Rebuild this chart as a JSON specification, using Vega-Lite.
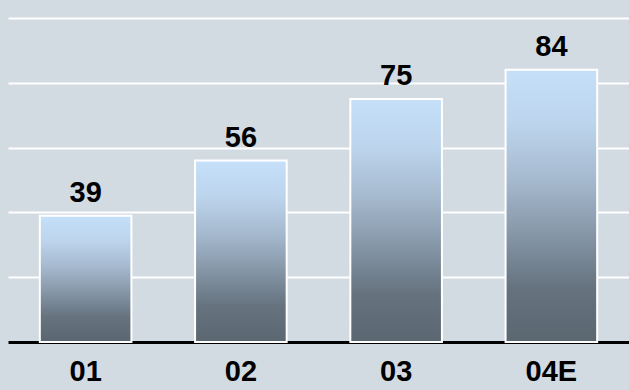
{
  "$schema": "https://vega.github.io/schema/vega-lite/v6.json",
  "width": 621,
  "height": 324,
  "autosize": {"type": "none"},
  "padding": {"left": 8, "top": 18, "right": 0, "bottom": 48},
  "background": "#d3dbe2",
  "config": {"view": {"stroke": null}},
  "data": {"values": [
    {"year": "01", "value": 39},
    {"year": "02", "value": 56},
    {"year": "03", "value": 75},
    {"year": "04E", "value": 84}
  ]},
  "encoding": {
    "x": {
      "field": "year", "type": "nominal", "sort": null,
      "scale": {"paddingInner": 0.41, "paddingOuter": 0.205},
      "axis": {
        "title": null, "labelAngle": 0, "ticks": false,
        "domainColor": "#000000", "domainWidth": 3,
        "labelFont": "Liberation Sans", "labelFontWeight": "bold", "labelFontSize": 29,
        "labelColor": "#000000", "labelBaseline": "alphabetic", "labelPadding": 38
      }
    },
    "y": {
      "field": "value", "type": "quantitative",
      "scale": {"domain": [0, 100], "nice": false},
      "axis": {
        "title": null, "labels": false, "ticks": false, "domain": false,
        "values": [20, 40, 60, 80, 100],
        "grid": true, "gridColor": "#ffffff", "gridWidth": 2, "gridOpacity": 1
      }
    }
  },
  "layer": [
    {
      "mark": {
        "type": "bar",
        "stroke": "#ffffff",
        "strokeWidth": 2,
        "color": {
          "gradient": "linear",
          "x1": 0, "y1": 0, "x2": 0, "y2": 1,
          "stops": [
            {"offset": 0, "color": "#c6e0fa"},
            {"offset": 0.2, "color": "#bcd4ec"},
            {"offset": 0.4, "color": "#a6bacf"},
            {"offset": 0.6, "color": "#8697a8"},
            {"offset": 0.8, "color": "#66737f"},
            {"offset": 1, "color": "#5a6670"}
          ]
        }
      }
    },
    {
      "mark": {
        "type": "text",
        "font": "Liberation Sans", "fontWeight": "bold", "fontSize": 29,
        "color": "#000000", "baseline": "alphabetic", "dy": -14
      },
      "encoding": {"text": {"field": "value", "type": "quantitative"}}
    }
  ]
}
